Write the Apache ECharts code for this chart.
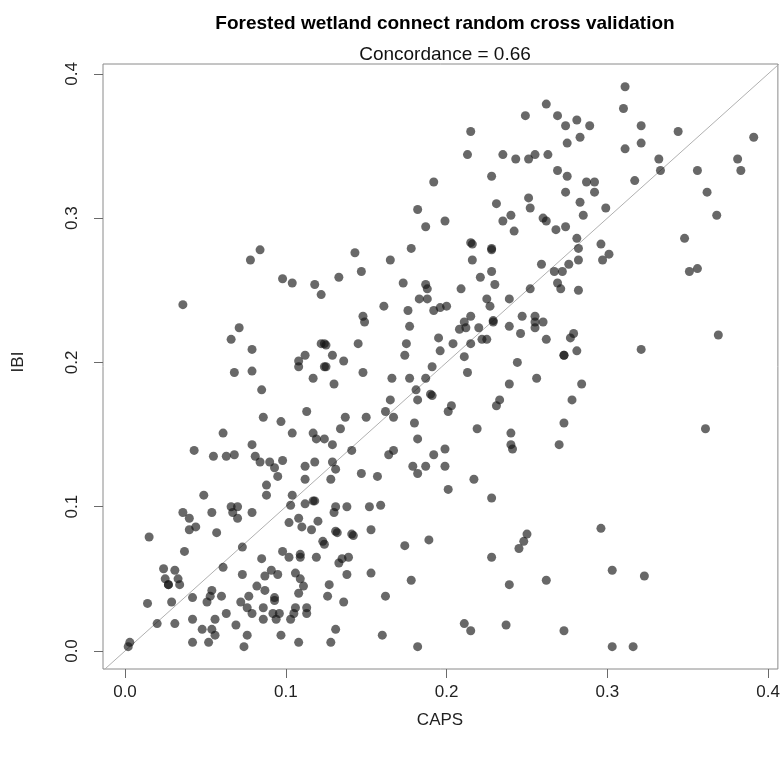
<!DOCTYPE html>
<html>
<head>
<meta charset="utf-8">
<script src="https://cdn.jsdelivr.net/npm/echarts@6/dist/echarts.min.js"></script>
<style>
  html, body { margin: 0; padding: 0; background: #fff; }
  #chart { width: 783px; height: 766px; }
</style>
</head>
<body>
<div id="chart"></div>
<script>
// Predicted (CAPS) and observed (IBI) values, one entry per site
const caps = [
  0.084, 0.078, 0.192, 0.182, 0.187, 0.178, 0.143, 0.165, 0.262, 0.249,
  0.269, 0.274, 0.281, 0.289, 0.215, 0.283, 0.275, 0.213, 0.235, 0.243,
  0.251, 0.255, 0.263, 0.228, 0.269, 0.275, 0.287, 0.292, 0.274, 0.292,
  0.251, 0.283, 0.231, 0.252, 0.299, 0.199, 0.240, 0.235, 0.285, 0.260,
  0.262, 0.274, 0.268, 0.242, 0.281, 0.215, 0.216, 0.228, 0.228, 0.282,
  0.296, 0.301, 0.216, 0.259, 0.276, 0.282, 0.297, 0.311, 0.310, 0.321,
  0.344, 0.321, 0.311, 0.391, 0.332, 0.333, 0.356, 0.381, 0.383, 0.317,
  0.362, 0.368, 0.348, 0.036, 0.071, 0.066, 0.079, 0.068, 0.079, 0.085,
  0.086, 0.061, 0.043, 0.055, 0.063, 0.068, 0.079, 0.081, 0.084, 0.090,
  0.147, 0.098, 0.104, 0.118, 0.133, 0.122, 0.173, 0.187, 0.188, 0.183,
  0.188, 0.161, 0.176, 0.192, 0.196, 0.148, 0.149, 0.177, 0.122, 0.124,
  0.125, 0.145, 0.175, 0.195, 0.196, 0.112, 0.129, 0.174, 0.108, 0.108,
  0.136, 0.124, 0.125, 0.148, 0.117, 0.130, 0.166, 0.177, 0.187, 0.191,
  0.181, 0.190, 0.191, 0.165, 0.182, 0.113, 0.162, 0.097, 0.137, 0.150,
  0.167, 0.180, 0.134, 0.104, 0.117, 0.119, 0.124, 0.129, 0.182, 0.141,
  0.164, 0.167, 0.192, 0.098, 0.118, 0.129, 0.112, 0.093, 0.131, 0.179,
  0.187, 0.228, 0.267, 0.272, 0.221, 0.230, 0.209, 0.269, 0.271, 0.252,
  0.282, 0.225, 0.227, 0.239, 0.200, 0.215, 0.211, 0.212, 0.208, 0.220,
  0.229, 0.229, 0.247, 0.255, 0.260, 0.255, 0.255, 0.239, 0.246, 0.222,
  0.225, 0.262, 0.279, 0.277, 0.204, 0.215, 0.211, 0.273, 0.273, 0.281,
  0.244, 0.213, 0.256, 0.239, 0.284, 0.233, 0.231, 0.203, 0.201, 0.278,
  0.273, 0.219, 0.240, 0.240, 0.241, 0.270, 0.199, 0.199, 0.351, 0.356,
  0.369, 0.321, 0.361, 0.088, 0.088, 0.049, 0.036, 0.040, 0.054, 0.066,
  0.070, 0.067, 0.070, 0.079, 0.040, 0.044, 0.057, 0.015, 0.073, 0.037,
  0.085, 0.024, 0.031, 0.061, 0.073, 0.091, 0.087, 0.025, 0.033, 0.027,
  0.027, 0.034, 0.082, 0.087, 0.054, 0.053, 0.051, 0.060, 0.042, 0.077,
  0.072, 0.014, 0.029, 0.076, 0.079, 0.086, 0.086, 0.063, 0.042, 0.056,
  0.020, 0.031, 0.069, 0.048, 0.054, 0.056, 0.052, 0.042, 0.076, 0.074,
  0.003, 0.002, 0.095, 0.112, 0.128, 0.147, 0.157, 0.182, 0.104, 0.103,
  0.112, 0.117, 0.118, 0.131, 0.130, 0.138, 0.152, 0.159, 0.108, 0.102,
  0.110, 0.116, 0.120, 0.131, 0.132, 0.141, 0.142, 0.153, 0.123, 0.124,
  0.174, 0.189, 0.098, 0.102, 0.109, 0.109, 0.119, 0.135, 0.139, 0.133,
  0.095, 0.106, 0.109, 0.111, 0.108, 0.138, 0.153, 0.178, 0.127, 0.126,
  0.136, 0.162, 0.093, 0.093, 0.106, 0.105, 0.113, 0.113, 0.092, 0.096,
  0.094, 0.103, 0.131, 0.097, 0.108, 0.128, 0.160, 0.182, 0.217, 0.201,
  0.228, 0.250, 0.248, 0.245, 0.228, 0.296, 0.303, 0.239, 0.262, 0.211,
  0.215, 0.237, 0.273, 0.303, 0.323, 0.316
];
const ibi = [
  0.278, 0.271, 0.325, 0.306, 0.294, 0.279, 0.276, 0.271, 0.379, 0.371,
  0.371, 0.364, 0.368, 0.364, 0.360, 0.356, 0.352, 0.344, 0.344, 0.341,
  0.341, 0.344, 0.344, 0.329, 0.333, 0.329, 0.325, 0.325, 0.318, 0.318,
  0.314, 0.311, 0.310, 0.307, 0.307, 0.298, 0.302, 0.298, 0.302, 0.300,
  0.298, 0.294, 0.292, 0.291, 0.286, 0.283, 0.282, 0.279, 0.278, 0.279,
  0.282, 0.275, 0.271, 0.268, 0.268, 0.271, 0.271, 0.391, 0.376, 0.364,
  0.360, 0.352, 0.348, 0.356, 0.341, 0.333, 0.333, 0.341, 0.333, 0.326,
  0.318, 0.302, 0.286, 0.240, 0.224, 0.216, 0.209, 0.193, 0.194, 0.181,
  0.162, 0.151, 0.139, 0.135, 0.135, 0.136, 0.143, 0.135, 0.131, 0.131,
  0.263, 0.258, 0.255, 0.254, 0.259, 0.247, 0.255, 0.254, 0.251, 0.244,
  0.244, 0.239, 0.236, 0.236, 0.238, 0.232, 0.228, 0.225, 0.213, 0.213,
  0.212, 0.213, 0.213, 0.217, 0.208, 0.205, 0.205, 0.205, 0.201, 0.197,
  0.201, 0.197, 0.197, 0.193, 0.189, 0.185, 0.189, 0.189, 0.189, 0.197,
  0.181, 0.178, 0.177, 0.174, 0.174, 0.166, 0.166, 0.159, 0.162, 0.162,
  0.162, 0.158, 0.154, 0.151, 0.151, 0.147, 0.147, 0.143, 0.147, 0.139,
  0.136, 0.139, 0.136, 0.132, 0.131, 0.131, 0.128, 0.127, 0.126, 0.128,
  0.128, 0.263, 0.263, 0.263, 0.259, 0.254, 0.251, 0.255, 0.251, 0.251,
  0.250, 0.244, 0.239, 0.244, 0.239, 0.232, 0.228, 0.224, 0.223, 0.224,
  0.229, 0.228, 0.232, 0.232, 0.228, 0.228, 0.224, 0.225, 0.220, 0.216,
  0.216, 0.216, 0.220, 0.217, 0.213, 0.213, 0.204, 0.205, 0.205, 0.208,
  0.200, 0.193, 0.189, 0.185, 0.185, 0.174, 0.170, 0.170, 0.166, 0.174,
  0.158, 0.154, 0.151, 0.143, 0.140, 0.143, 0.140, 0.128, 0.263, 0.265,
  0.219, 0.209, 0.154, 0.115, 0.108, 0.108, 0.096, 0.092, 0.096, 0.100,
  0.100, 0.096, 0.092, 0.096, 0.084, 0.086, 0.082, 0.079, 0.072, 0.069,
  0.064, 0.057, 0.056, 0.058, 0.053, 0.056, 0.052, 0.050, 0.050, 0.046,
  0.046, 0.046, 0.045, 0.042, 0.042, 0.038, 0.034, 0.038, 0.037, 0.038,
  0.034, 0.033, 0.034, 0.030, 0.026, 0.030, 0.022, 0.026, 0.022, 0.022,
  0.019, 0.019, 0.018, 0.015, 0.015, 0.011, 0.006, 0.006, 0.011, 0.003,
  0.006, 0.003, 0.121, 0.119, 0.119, 0.123, 0.121, 0.123, 0.108, 0.101,
  0.102, 0.104, 0.104, 0.100, 0.096, 0.100, 0.100, 0.101, 0.092, 0.089,
  0.086, 0.084, 0.090, 0.083, 0.082, 0.081, 0.080, 0.084, 0.076, 0.074,
  0.073, 0.077, 0.069, 0.065, 0.067, 0.065, 0.065, 0.064, 0.065, 0.061,
  0.053, 0.054, 0.050, 0.045, 0.040, 0.053, 0.054, 0.049, 0.046, 0.038,
  0.034, 0.038, 0.037, 0.035, 0.030, 0.026, 0.030, 0.026, 0.026, 0.026,
  0.022, 0.022, 0.015, 0.011, 0.006, 0.006, 0.011, 0.003, 0.119, 0.112,
  0.106, 0.081, 0.076, 0.071, 0.065, 0.085, 0.056, 0.046, 0.049, 0.019,
  0.014, 0.018, 0.014, 0.003, 0.052, 0.003
];
const tickValues = [0.0, 0.1, 0.2, 0.3, 0.4];
const identityLine = [-0.05, 0.45];

const FONT = '"Liberation Sans", Arial, sans-serif';
const chart = echarts.init(document.getElementById('chart'), null, { renderer: 'canvas' });

const points = caps.map((c, i) => [c, ibi[i]]);

chart.setOption({
  animation: false,
  backgroundColor: '#ffffff',
  title: [
    {
      text: 'Forested wetland connect random cross validation',
      left: 440, top: 9, textAlign: 'center',
      textStyle: { fontFamily: FONT, fontSize: 19, fontWeight: 'bold', color: '#000' }
    },
    {
      text: 'Concordance = 0.66',
      left: 440, top: 40, textAlign: 'center',
      textStyle: { fontFamily: FONT, fontSize: 19, fontWeight: 'normal', color: '#111' }
    }
  ],
  grid: {
    left: 103, right: 5, top: 64, bottom: 97,
    show: true, borderColor: '#8a8a8a', borderWidth: 1, backgroundColor: 'transparent'
  },
  xAxis: {
    type: 'value',
    min: -0.01368, max: 0.40603,
    splitLine: { show: false },
    axisLine: { show: false, onZero: false },
    axisTick: { show: true, length: 9, lineStyle: { color: '#6a6a6a' }, customValues: tickValues },
    axisLabel: {
      customValues: tickValues, margin: 15,
      fontFamily: FONT, fontSize: 17, color: '#222',
      formatter: v => v.toFixed(1)
    }
  },
  yAxis: {
    type: 'value',
    min: -0.01247, max: 0.4068,
    splitLine: { show: false },
    axisLine: { show: false, onZero: false },
    axisTick: { show: true, length: 9, lineStyle: { color: '#6a6a6a' }, customValues: tickValues },
    axisLabel: {
      customValues: tickValues, margin: 22, rotate: 90,
      fontFamily: FONT, fontSize: 17, color: '#222',
      formatter: v => v.toFixed(1)
    }
  },
  graphic: [
    {
      type: 'text', x: 440, y: 720,
      style: { text: 'CAPS', font: '17px ' + FONT, fill: '#222', align: 'center', verticalAlign: 'middle' }
    },
    {
      type: 'text', x: 18, y: 362, rotation: Math.PI / 2,
      style: { text: 'IBI', font: '17px ' + FONT, fill: '#222', align: 'center', verticalAlign: 'middle' }
    }
  ],
  series: [
    {
      type: 'line',
      data: identityLine.map(v => [v, v]),
      symbol: 'none',
      clip: true,
      lineStyle: { color: '#b0b0b0', width: 1 },
      z: 1,
      silent: true
    },
    {
      type: 'scatter',
      data: points,
      symbol: 'circle',
      symbolSize: 9,
      itemStyle: { color: 'rgba(18,18,18,0.8)' },
      z: 2
    }
  ]
});
</script>
</body>
</html>
